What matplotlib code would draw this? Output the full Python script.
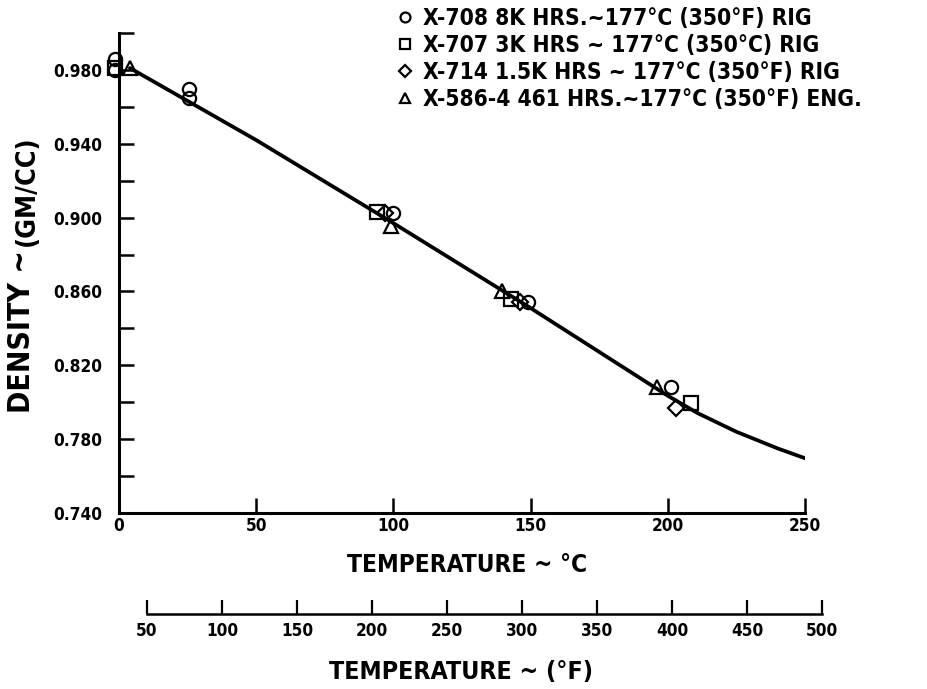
import os
import matplotlib
matplotlib.use("Agg")
import matplotlib.pyplot as plt
import matplotlib.font_manager as fm
from matplotlib.ticker import FixedLocator

# Fitted density curve (temperature in deg C, density in gm/cc)
curve_t = [4, 50, 100, 150, 200, 211, 225, 240, 255]
curve_d = [0.981, 0.942, 0.897, 0.851, 0.8035, 0.794, 0.784, 0.775, 0.767]

# Measured samples
x708_t = [-1.5, -1.5, 25.5, 25.5, 100, 149, 201]
x708_d = [0.986, 0.980, 0.9695, 0.965, 0.9025, 0.8545, 0.808]
x707_t = [-1.5, 94, 143, 208.5]
x707_d = [0.981, 0.903, 0.8557, 0.7997]
x714_t = [97, 146, 203]
x714_d = [0.9025, 0.8545, 0.797]
x586_t = [4, 99.3, 139.5, 196]
x586_d = [0.981, 0.8952, 0.8605, 0.808]

series_labels = [
    "X-708 8K HRS.~177°C (350°F) RIG",
    "X-707 3K HRS ~ 177°C (350°C) RIG",
    "X-714 1.5K HRS ~ 177°C (350°F) RIG",
    "X-586-4 461 HRS.~177°C (350°F) ENG.",
]

c_ticks = [0, 50, 100, 150, 200, 250]
d_major = [0.740, 0.780, 0.820, 0.860, 0.900, 0.940, 0.980]
d_minor = [0.760, 0.800, 0.840, 0.880, 0.920, 0.960, 1.000]
f_ticks = [50, 100, 150, 200, 250, 300, 350, 400, 450, 500]


def narrow_bold_font():
    """Pick a condensed bold face if one is installed, else plain bold."""
    cands = [("DejaVu Sans", "condensed"), ("DejaVu Sans Condensed", "normal"),
             ("Noto Sans", "condensed"), ("Noto Sans", "extra-condensed"),
             ("Noto Sans Condensed", "normal"), ("Liberation Sans Narrow", "normal"),
             ("Roboto Condensed", "normal"), ("Open Sans Condensed", "normal")]
    for fam, st in cands:
        try:
            path = fm.findfont(fm.FontProperties(family=fam, stretch=st, weight="bold"),
                               fallback_to_default=False)
        except ValueError:
            continue
        name = os.path.basename(path).lower()
        if "cond" in name or "narrow" in name:
            return path
    return fm.findfont(fm.FontProperties(family="DejaVu Sans", weight="bold"))


FONT_PATH = narrow_bold_font()


def fp(size):
    return fm.FontProperties(fname=FONT_PATH, size=size)


W, H = 927, 689
fig = plt.figure(figsize=(W / 100, H / 100), dpi=100)
fig.patch.set_facecolor("white")
renderer = fig.canvas.get_renderer()


def fitted_size(text, width_px, max_size):
    t = fig.text(0, 0, text, fontproperties=fp(max_size))
    w = t.get_window_extent(renderer).width
    t.remove()
    return min(max_size, max_size * width_px / w)


tick_size = fitted_size("0.980", 49, 14)
xlab_size = fitted_size("TEMPERATURE ~ °C", 240, 22)
flab_size = fitted_size("TEMPERATURE ~ (°F)", 263, 22)
leg_size = fitted_size(series_labels[3], 440, 18)
dens_size = fitted_size("DENSITY ~", 163, 27)
unit_size = fitted_size("(GM/CC)", 110, 20)

ax = fig.add_axes([119 / W, 1 - 513 / H, (805 - 119) / W, (513 - 33) / H])
ax.set_xlim(0, 250)
ax.set_ylim(0.740, 1.000)
for s in ("top", "right"):
    ax.spines[s].set_visible(False)
for s in ("left", "bottom"):
    ax.spines[s].set_linewidth(2.2)

ax.plot(curve_t, curve_d, color="black", lw=2.7, solid_capstyle="round", zorder=2)

mk = dict(color="black", linestyle="none", fillstyle="none", markersize=9.5,
          markeredgewidth=1.6, clip_on=False, zorder=3)
h1, = ax.plot(x708_t, x708_d, marker="o", **mk)
h2, = ax.plot(x707_t, x707_d, marker="s", **mk)
h3, = ax.plot(x714_t, x714_d, marker="D", **{**mk, "markersize": 8.5})
h4, = ax.plot(x586_t, x586_d, marker="^", **mk)

ax.xaxis.set_major_locator(FixedLocator(c_ticks))
ax.set_xticklabels([str(v) for v in c_ticks], fontproperties=fp(tick_size))
ax.yaxis.set_major_locator(FixedLocator(d_major))
ax.yaxis.set_minor_locator(FixedLocator(d_minor))
ax.set_yticklabels([f"{v:.3f}" for v in d_major], fontproperties=fp(tick_size))
ax.tick_params(axis="both", which="both", direction="in", length=11, width=1.8,
               colors="black")
ax.tick_params(axis="x", pad=3)
ax.tick_params(axis="y", pad=12)

# Fahrenheit scale below the Celsius axis
axf = fig.add_axes([147 / W, 1 - 614 / H, 675 / W, 0.001])
axf.set_xlim(50, 500)
axf.patch.set_visible(False)
for s in ("top", "right", "left"):
    axf.spines[s].set_visible(False)
axf.spines["bottom"].set_linewidth(1.8)
axf.set_yticks([])
axf.xaxis.set_major_locator(FixedLocator(f_ticks))
axf.set_xticklabels([str(v) for v in f_ticks], fontproperties=fp(tick_size))
axf.tick_params(axis="x", direction="in", length=10, width=1.6, pad=6)

fig.text(467 / W, 1 - 565 / H, "TEMPERATURE ~ °C", ha="center", va="center",
         fontproperties=fp(xlab_size))
fig.text(461 / W, 1 - 672 / H, "TEMPERATURE ~ (°F)", ha="center", va="center",
         fontproperties=fp(flab_size))

fig.text(22 / W, 1 - 413 / H, "DENSITY ~", rotation=90, ha="center", va="bottom",
         fontproperties=fp(dens_size))
fig.text(27 / W, 1 - 246 / H, "(GM/CC)", rotation=90, ha="center", va="bottom",
         fontproperties=fp(unit_size))


def make_legend(spacing):
    return ax.legend([h1, h2, h3, h4], series_labels, loc="upper left",
                     bbox_to_anchor=(397 / W, 1 - 7 / H), bbox_transform=fig.transFigure,
                     frameon=False, prop=fp(leg_size), handlelength=0.7,
                     handletextpad=0.45, labelspacing=spacing, borderpad=0,
                     borderaxespad=0, markerscale=0.75)


# Row pitch of the key is 27 px; tune the spacing to reach it
spacing = 0.3
leg = make_legend(spacing)
fig.canvas.draw()
ys = [t.get_window_extent(renderer).y0 for t in leg.get_texts()]
pitch = (ys[0] - ys[-1]) / 3
spacing += (27 - pitch) / (leg_size * 100 / 72)
leg.remove()
leg = make_legend(max(spacing, 0))

fig.savefig("out.png", dpi=100, facecolor="white")
